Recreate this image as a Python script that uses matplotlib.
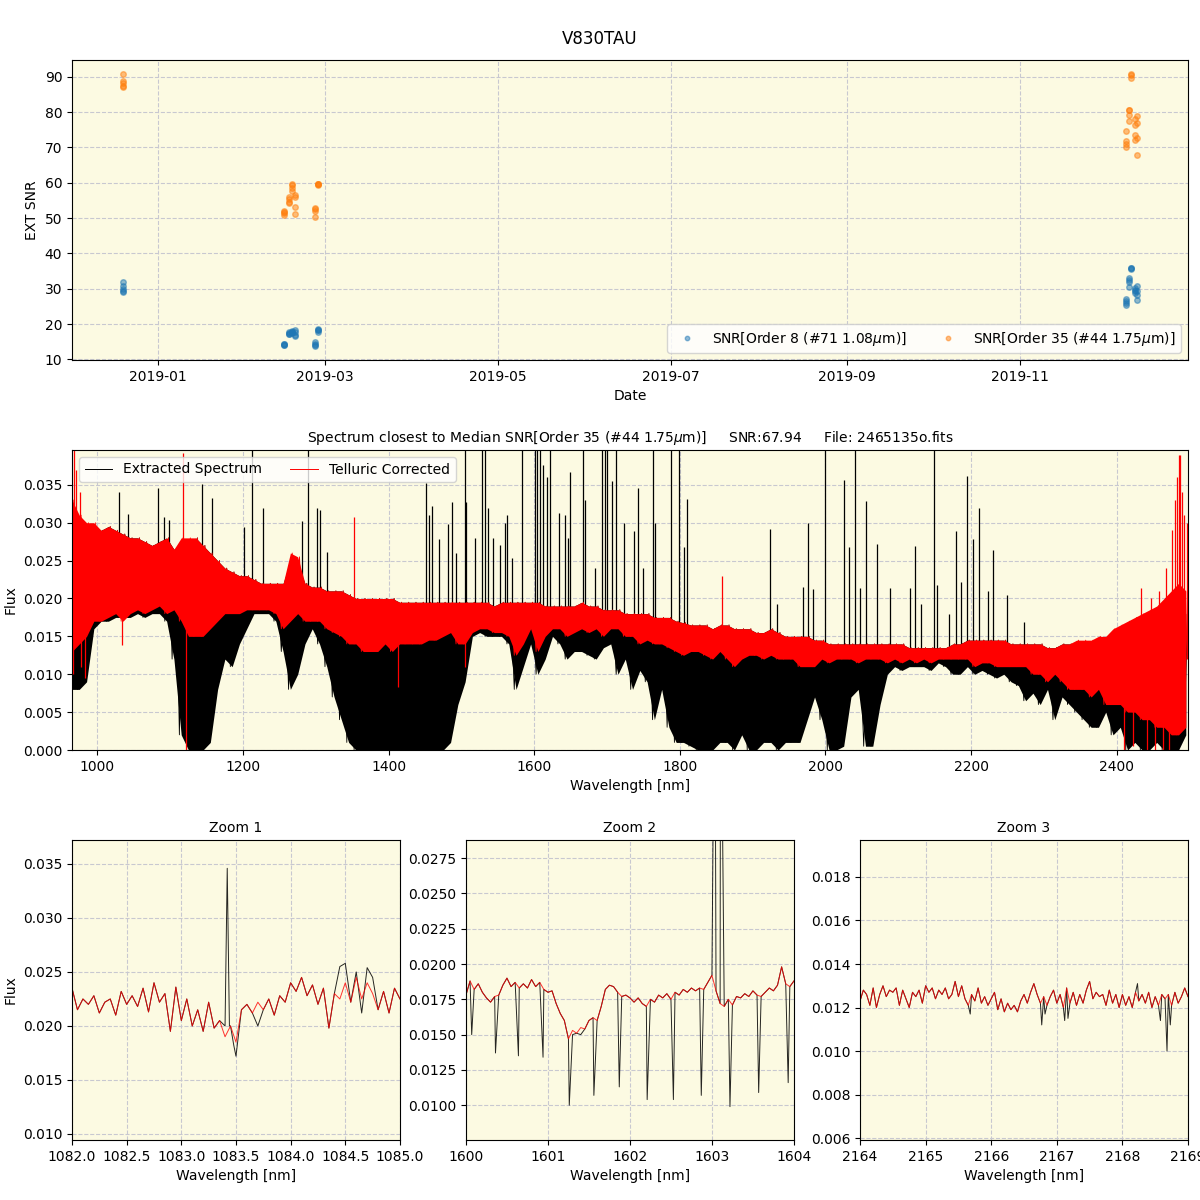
import numpy as np
import pandas as pd
import matplotlib
matplotlib.use('Agg')
import matplotlib.pyplot as plt
import matplotlib.dates as mdates

# ---------------- SNR time series ----------------
obs_dates = [
    '2018-12-19 15:00', '2018-12-19 15:10', '2018-12-19 15:20', '2018-12-19 15:30', '2018-12-19 15:40',
    '2019-02-14 08:00', '2019-02-14 08:10', '2019-02-14 08:20', '2019-02-14 08:30',
    '2019-02-16 05:00', '2019-02-16 05:10', '2019-02-16 05:20', '2019-02-16 05:30',
    '2019-02-17 06:00', '2019-02-17 06:10', '2019-02-17 06:20', '2019-02-17 06:30',
    '2019-02-18 07:00', '2019-02-18 07:10', '2019-02-18 07:20', '2019-02-18 07:30',
    '2019-02-25 10:00', '2019-02-25 10:10', '2019-02-25 10:20', '2019-02-25 10:30',
    '2019-02-26 10:00', '2019-02-26 10:10', '2019-02-26 10:20', '2019-02-26 10:30',
    '2019-12-08 11:00', '2019-12-08 11:10', '2019-12-08 11:20', '2019-12-08 11:30',
    '2019-12-09 12:00', '2019-12-09 12:10', '2019-12-09 12:20', '2019-12-09 12:30',
    '2019-12-10 05:00', '2019-12-10 05:10', '2019-12-10 05:20',
    '2019-12-11 14:00', '2019-12-11 14:10', '2019-12-11 14:20', '2019-12-11 14:30',
    '2019-12-12 07:00', '2019-12-12 07:10', '2019-12-12 07:20', '2019-12-12 07:30',
]
snr_order8 = [
    31.9, 30.7, 30.0, 29.4, 29.0,
    14.3, 14.2, 14.4, 14.1,
    17.7, 17.3, 17.5, 17.2,
    17.9, 17.5, 18.0, 17.7,
    18.4, 17.7, 16.5, 17.0,
    14.9, 14.3, 13.7, 14.0,
    18.6, 17.9, 18.2, 18.4,
    27.1, 26.5, 25.4, 26.0,
    33.1, 32.4, 30.5, 31.8,
    35.8, 35.8, 35.6,
    30.2, 29.6, 28.8, 29.3,
    30.9, 28.1, 26.9, 29.5,
]
snr_order35 = [
    90.9, 88.8, 88.2, 87.4, 87.0,
    52.1, 51.8, 51.5, 50.8,
    56.1, 55.3, 54.7, 54.3,
    59.8, 59.3, 58.6, 57.8,
    56.6, 56.0, 53.2, 51.2,
    52.9, 52.5, 52.0, 50.4,
    59.8, 59.5, 59.7, 59.6,
    74.6, 71.7, 70.9, 70.1,
    80.7, 80.7, 79.1, 77.4,
    90.9, 90.5, 89.8,
    78.2, 76.3, 73.6, 72.0,
    78.9, 76.9, 72.8, 68.0,
]

# ---------------- full spectrum, envelopes in 10 nm bins ----------------
spec_wl = np.arange(965, 2500, 10)
ext_lo = [
    0.008, 0.008, 0.009, 0.016,
    0.017, 0.017, 0.0175, 0.0175, 0.0175, 0.018, 0.0175, 0.018, 0.018, 0.017,
    0.012, 0.002, 0.000, 0.000, 0.000, 0.001, 0.008, 0.012, 0.011, 0.014,
    0.016, 0.018, 0.018, 0.018, 0.017, 0.013, 0.008, 0.010, 0.014, 0.016,
    0.014, 0.011, 0.007, 0.004, 0.001, 0.000, 0.000, 0.000, 0.000, 0.000,
    0.000, 0.000, 0.000, 0.000, 0.000, 0.000, 0.000, 0.000, 0.001, 0.006,
    0.009, 0.015, 0.0155, 0.015, 0.015, 0.015, 0.014, 0.008, 0.011, 0.014,
    0.010, 0.012, 0.015, 0.014, 0.012, 0.013, 0.013, 0.0125, 0.012, 0.0135,
    0.014, 0.010, 0.012, 0.008, 0.0105, 0.009, 0.004, 0.008, 0.003, 0.001,
    0.001, 0.0005, 0.000, 0.000, 0.000, 0.001, 0.001, 0.000, 0.002, 0.000,
    0.000, 0.001, 0.001, 0.000, 0.001, 0.001, 0.001, 0.004, 0.007, 0.004,
    0.000, 0.000, 0.0005, 0.007, 0.008, 0.0005, 0.0005, 0.006, 0.010, 0.011,
    0.0105, 0.011, 0.011, 0.011, 0.0105, 0.0115, 0.011, 0.010, 0.010, 0.011,
    0.010, 0.0105, 0.010, 0.0095, 0.010, 0.009, 0.0085, 0.0065, 0.0075, 0.006,
    0.008, 0.004, 0.007, 0.006, 0.005, 0.004, 0.003, 0.003, 0.005, 0.002,
    0.003, 0.000, 0.001, 0.000, 0.000, 0.001, 0.000, 0.000, 0.000, 0.002,
]
ext_hi = [
    0.031, 0.030, 0.029, 0.029,
    0.029, 0.0295, 0.029, 0.0285, 0.028, 0.028, 0.0275, 0.027, 0.0275, 0.028,
    0.0265, 0.027, 0.027, 0.028, 0.027, 0.026, 0.025, 0.024, 0.0235, 0.023,
    0.023, 0.0225, 0.022, 0.022, 0.022, 0.022, 0.025, 0.0245, 0.022, 0.0215,
    0.0215, 0.021, 0.021, 0.021, 0.0205, 0.020, 0.020, 0.020, 0.020, 0.020,
    0.020, 0.0195, 0.0195, 0.0195, 0.0195, 0.0195, 0.0195, 0.0195, 0.0195, 0.0195,
    0.0195, 0.0195, 0.0195, 0.0195, 0.019, 0.0195, 0.0195, 0.0195, 0.0195, 0.0195,
    0.0195, 0.019, 0.019, 0.019, 0.019, 0.019, 0.0195, 0.019, 0.019, 0.0185,
    0.0185, 0.0185, 0.018, 0.018, 0.018, 0.018, 0.0175, 0.0175, 0.0175, 0.017,
    0.0168, 0.0165, 0.0165, 0.0165, 0.016, 0.0165, 0.0165, 0.016, 0.016, 0.016,
    0.0155, 0.0155, 0.016, 0.0155, 0.015, 0.015, 0.015, 0.015, 0.0145, 0.0145,
    0.014, 0.014, 0.014, 0.014, 0.014, 0.014, 0.014, 0.014, 0.014, 0.014,
    0.014, 0.0135, 0.0135, 0.0135, 0.0135, 0.0135, 0.0135, 0.014, 0.014, 0.0145,
    0.0145, 0.0145, 0.0145, 0.0145, 0.0145, 0.014, 0.014, 0.014, 0.014, 0.014,
    0.0135, 0.0135, 0.014, 0.014, 0.014, 0.014, 0.014, 0.0145, 0.0145, 0.015,
    0.016, 0.016, 0.0165, 0.017, 0.017, 0.017, 0.018, 0.018, 0.019, 0.018,
]
tel_lo = [
    0.013, 0.014, 0.015, 0.017,
    0.017, 0.0175, 0.018, 0.017, 0.018, 0.0185, 0.018, 0.0185, 0.019, 0.018,
    0.0185, 0.017, 0.015, 0.015, 0.015, 0.016, 0.017, 0.018, 0.018, 0.018,
    0.0185, 0.0185, 0.0185, 0.0185, 0.018, 0.016, 0.017, 0.018, 0.017, 0.017,
    0.017, 0.016, 0.0155, 0.015, 0.014, 0.014, 0.013, 0.013, 0.013, 0.014,
    0.013, 0.014, 0.014, 0.014, 0.014, 0.0145, 0.0145, 0.015, 0.0155, 0.014,
    0.014, 0.0155, 0.016, 0.016, 0.0155, 0.0155, 0.015, 0.0125, 0.014, 0.016,
    0.013, 0.015, 0.016, 0.016, 0.015, 0.0155, 0.016, 0.0155, 0.016, 0.015,
    0.016, 0.016, 0.015, 0.015, 0.014, 0.0145, 0.014, 0.014, 0.0135, 0.013,
    0.0125, 0.013, 0.013, 0.0125, 0.012, 0.013, 0.012, 0.011, 0.012, 0.0125,
    0.0125, 0.012, 0.0125, 0.012, 0.012, 0.012, 0.011, 0.011, 0.011, 0.012,
    0.0115, 0.012, 0.012, 0.012, 0.0115, 0.012, 0.012, 0.012, 0.0115, 0.012,
    0.0115, 0.012, 0.0115, 0.012, 0.0115, 0.012, 0.012, 0.012, 0.012, 0.012,
    0.011, 0.0115, 0.0115, 0.011, 0.011, 0.011, 0.011, 0.011, 0.010, 0.010,
    0.009, 0.010, 0.009, 0.008, 0.008, 0.008, 0.007, 0.008, 0.006, 0.006,
    0.006, 0.005, 0.005, 0.004, 0.004, 0.003, 0.003, 0.002, 0.002, 0.003,
]
tel_hi = [
    0.033, 0.031, 0.030, 0.030,
    0.029, 0.0295, 0.029, 0.0285, 0.028, 0.028, 0.0275, 0.027, 0.0275, 0.028,
    0.0265, 0.028, 0.028, 0.028, 0.027, 0.026, 0.025, 0.024, 0.0235, 0.023,
    0.023, 0.0225, 0.022, 0.022, 0.022, 0.022, 0.026, 0.0255, 0.022, 0.0215,
    0.0215, 0.021, 0.021, 0.021, 0.0205, 0.020, 0.020, 0.020, 0.020, 0.020,
    0.020, 0.0195, 0.0195, 0.0195, 0.0195, 0.0195, 0.0195, 0.0195, 0.0195, 0.0195,
    0.0195, 0.0195, 0.0195, 0.0195, 0.019, 0.0195, 0.0195, 0.0195, 0.0195, 0.0195,
    0.0195, 0.019, 0.019, 0.019, 0.019, 0.019, 0.0195, 0.019, 0.019, 0.0185,
    0.0185, 0.0185, 0.018, 0.018, 0.018, 0.018, 0.0175, 0.0175, 0.0175, 0.017,
    0.0168, 0.0165, 0.0165, 0.0165, 0.016, 0.0165, 0.0165, 0.016, 0.016, 0.016,
    0.0155, 0.0155, 0.016, 0.0155, 0.015, 0.015, 0.015, 0.015, 0.0145, 0.0145,
    0.014, 0.014, 0.014, 0.014, 0.014, 0.014, 0.014, 0.014, 0.014, 0.014,
    0.014, 0.0135, 0.0135, 0.0135, 0.0135, 0.0135, 0.0135, 0.014, 0.014, 0.0145,
    0.0145, 0.0145, 0.0145, 0.0145, 0.0145, 0.014, 0.014, 0.014, 0.014, 0.014,
    0.0135, 0.0135, 0.014, 0.014, 0.0145, 0.0145, 0.0145, 0.015, 0.015, 0.016,
    0.0165, 0.017, 0.0175, 0.018, 0.0185, 0.019, 0.020, 0.021, 0.022, 0.021,
]

# narrow spikes in the extracted spectrum (wavelength, peak flux)
ext_spike_wl = [972, 980, 1029, 1042, 1083.4, 1091.7, 1098, 1143.5, 1157.6, 1201.6,
                1211.7, 1227.7, 1280.4, 1289.6, 1301, 1305.6, 1314.8, 1451, 1456, 1460,
                1469, 1482, 1487.5, 1492.5, 1505, 1506.5, 1518, 1528, 1532, 1537,
                1543, 1553, 1560, 1563, 1569.5, 1583, 1601.5, 1603.1, 1608, 1611.6,
                1618, 1621.7, 1634, 1642, 1647, 1649, 1667, 1670, 1683, 1693.5,
                1697, 1700, 1706.5, 1712, 1723, 1737.5, 1742.6, 1750, 1763.6, 1766,
                1787.5, 1798.5, 1806, 1810, 1924, 1934, 1968.6, 1975.8, 1982.7, 1999.6,
                2026, 2032.6, 2040, 2048, 2055.5, 2071, 2089, 2115.5, 2123, 2131.6,
                2149, 2153, 2170, 2179, 2186, 2193.8, 2203, 2211, 2223, 2229.5,
                2250, 2272.6]
ext_spike_top = [0.030, 0.029, 0.0341, 0.0311, 0.0346, 0.0307, 0.0304, 0.0351, 0.0333, 0.0295,
                 0.045, 0.032, 0.0302, 0.045, 0.032, 0.0317, 0.0262, 0.0353, 0.031, 0.0322,
                 0.0278, 0.0298, 0.0327, 0.026, 0.045, 0.0327, 0.028, 0.045, 0.045, 0.032,
                 0.028, 0.027, 0.030, 0.031, 0.0253, 0.045, 0.045, 0.045, 0.045, 0.0376,
                 0.036, 0.045, 0.0313, 0.031, 0.028, 0.0367, 0.045, 0.033, 0.024, 0.045,
                 0.045, 0.045, 0.0355, 0.045, 0.030, 0.0289, 0.0346, 0.024, 0.045, 0.030,
                 0.045, 0.045, 0.0268, 0.0331, 0.0292, 0.0193, 0.0215, 0.030, 0.0213, 0.045,
                 0.0357, 0.0268, 0.045, 0.0214, 0.0329, 0.0272, 0.0214, 0.0214, 0.0269, 0.0193,
                 0.045, 0.0218, 0.018, 0.0289, 0.0222, 0.0362, 0.0278, 0.0319, 0.021, 0.0264,
                 0.0205, 0.0169]
# narrow features in the telluric corrected spectrum (wavelength, extreme flux)
tel_spike_wl = [966, 968, 971, 976, 978, 983, 1034, 1118, 1122, 1352, 1413, 1505, 1858,
                2410, 2422, 2434, 2441, 2447, 2452, 2458, 2463, 2468, 2472, 2476, 2480,
                2483, 2485, 2487, 2490, 2493, 2496]
tel_spike_val = [0.010, 0.040, 0.037, 0.034, 0.011, 0.0095, 0.0139, 0.0392, 0.0, 0.0308,
                 0.0083, 0.011, 0.023, 0.0, 0.0005, 0.0214, 0.0, 0.020, 0.0, 0.021,
                 0.0, 0.024, 0.0, 0.029, 0.033, 0.036, 0.039, 0.039, 0.034, 0.031, 0.030]

# ---------------- zoom windows ----------------
zoom1_wl = np.round(np.arange(1082.0, 1085.001, 0.05), 3)
zoom1_tel = [0.0235, 0.0215, 0.0225, 0.0220, 0.0228, 0.0212, 0.0222, 0.0225, 0.0210, 0.0232,
             0.0220, 0.0228, 0.0218, 0.0235, 0.0213, 0.0240, 0.0222, 0.0230, 0.0195, 0.0236,
             0.0205, 0.0225, 0.0200, 0.0215, 0.0195, 0.0222, 0.0198, 0.0205, 0.0190, 0.0200,
             0.0185, 0.0215, 0.0220, 0.0212, 0.0222, 0.0215, 0.0225, 0.0210, 0.0228, 0.0222,
             0.0240, 0.0232, 0.0245, 0.0228, 0.0238, 0.0220, 0.0235, 0.0198, 0.0230, 0.0225,
             0.0240, 0.0222, 0.0245, 0.0225, 0.0240, 0.0230, 0.0215, 0.0232, 0.0212, 0.0235,
             0.0225]
zoom1_ext_wl = [1083.40, 1083.42, 1083.44, 1083.48, 1083.50, 1083.70,
                1084.45, 1084.50, 1084.60, 1084.65, 1084.70, 1084.75]
zoom1_ext_val = [0.0200, 0.0346, 0.0200, 0.0182, 0.0172, 0.0200,
                 0.0255, 0.0258, 0.0250, 0.0212, 0.0254, 0.0245]

zoom2_wl = np.round(np.arange(1600.0, 1604.001, 0.05), 3)
zoom2_tel = [0.0178, 0.0188, 0.0182, 0.0186, 0.0180, 0.0176, 0.0173, 0.0177, 0.0178, 0.0185,
             0.0190, 0.0184, 0.0187, 0.0183, 0.0186, 0.0183, 0.0189, 0.0184, 0.0187, 0.0182,
             0.0180, 0.0181, 0.0172, 0.0165, 0.0160, 0.0147, 0.0153, 0.0151, 0.0155, 0.0154,
             0.0160, 0.0162, 0.0160, 0.0170, 0.0182, 0.0185, 0.0184, 0.0180, 0.0177, 0.0178,
             0.0176, 0.0173, 0.0176, 0.0172, 0.0170, 0.0175, 0.0173, 0.0178, 0.0176, 0.0179,
             0.0175, 0.0180, 0.0178, 0.0182, 0.0180, 0.0183, 0.0181, 0.0183, 0.0182, 0.0187,
             0.0192, 0.0181, 0.0172, 0.0170, 0.0175, 0.0171, 0.0177, 0.0176, 0.0179, 0.0177,
             0.0181, 0.0178, 0.0177, 0.0180, 0.0183, 0.0181, 0.0185, 0.0198, 0.0186, 0.0184,
             0.0188]
zoom2_ext_wl = [1600.07, 1600.36, 1600.64, 1600.94, 1601.26, 1601.30, 1601.40, 1601.56,
                1601.87, 1602.21, 1602.53, 1602.87, 1603.035, 1603.105, 1603.22, 1603.57, 1603.93]
zoom2_ext_val = [0.0150, 0.0137, 0.0135, 0.0134, 0.0100, 0.0150, 0.0150, 0.0107,
                 0.0113, 0.0104, 0.0104, 0.0107, 0.045, 0.045, 0.0099, 0.0109, 0.0116]

zoom3_wl = np.round(np.arange(2164.0, 2169.001, 0.05), 3)
zoom3_tel = [0.0123, 0.0128, 0.0126, 0.0121, 0.0129, 0.0120, 0.0126, 0.0130, 0.0125, 0.0128,
             0.0127, 0.0129, 0.0121, 0.0128, 0.0124, 0.0120, 0.0127, 0.0125, 0.0128, 0.0122,
             0.0130, 0.0127, 0.0129, 0.0124, 0.0128, 0.0126, 0.0129, 0.0124, 0.0126, 0.0132,
             0.0125, 0.0130, 0.0124, 0.0121, 0.0126, 0.0123, 0.0129, 0.0122, 0.0125, 0.0121,
             0.0124, 0.0127, 0.0119, 0.0124, 0.0118, 0.0122, 0.0119, 0.0121, 0.0118, 0.0123,
             0.0126, 0.0122, 0.0127, 0.0131, 0.0126, 0.0122, 0.0125, 0.0121, 0.0125, 0.0128,
             0.0122, 0.0126, 0.0120, 0.0129, 0.0122, 0.0127, 0.0121, 0.0126, 0.0122, 0.0128,
             0.0132, 0.0124, 0.0127, 0.0125, 0.0126, 0.0121, 0.0128, 0.0122, 0.0126, 0.0120,
             0.0126, 0.0121, 0.0125, 0.0120, 0.0127, 0.0123, 0.0126, 0.0122, 0.0127, 0.0120,
             0.0125, 0.0121, 0.0126, 0.0124, 0.0126, 0.0121, 0.0127, 0.0122, 0.0125, 0.0129,
             0.0125]
zoom3_ext_wl = [2165.68, 2166.77, 2166.82, 2167.12, 2167.17, 2168.23, 2168.58, 2168.68, 2168.73]
zoom3_ext_val = [0.0117, 0.0112, 0.0117, 0.0114, 0.0115, 0.0131, 0.0114, 0.0100, 0.0112]

BG = '#fcfae2'


def zigzag(wl, lo, hi, half=2.5):
    wl = np.asarray(wl, float)
    x = np.column_stack([wl - half, wl + half]).ravel()
    y = np.column_stack([lo, hi]).ravel()
    return x, y


def with_overrides(wl, flux, o_wl, o_val):
    d = {round(float(w), 3): v for w, v in zip(wl, flux)}
    for w, v in zip(o_wl, o_val):
        d[round(float(w), 3)] = v
    keys = sorted(d)
    return keys, [d[k] for k in keys]


def style(ax):
    ax.set_facecolor(BG)
    ax.grid(True, linestyle='--', color='#c8c8d0', linewidth=0.8)
    ax.set_axisbelow(True)


fig = plt.figure(figsize=(12, 12), dpi=100)
fig.suptitle('V830TAU', y=0.975, fontsize=12)

# ---- top: SNR vs date
ax1 = fig.add_axes([0.06, 0.70, 0.93, 0.25])
style(ax1)
dates = pd.to_datetime(obs_dates)
ax1.plot(dates, snr_order8, 'o', ms=4, alpha=0.5, color='tab:blue',
         label='SNR[Order 8 (#71 1.08$\\mu$m)]')
ax1.plot(dates, snr_order35, 'o', ms=4, alpha=0.5, color='tab:orange',
         label='SNR[Order 35 (#44 1.75$\\mu$m)]')
ax1.xaxis.set_major_locator(mdates.MonthLocator(bymonth=[1, 3, 5, 7, 9, 11]))
ax1.xaxis.set_major_formatter(mdates.DateFormatter('%Y-%m'))
ax1.set_xlabel('Date')
ax1.set_ylabel('EXT SNR')
ax1.legend(loc='lower right', ncol=2, markerscale=0.8)

# ---- middle: full spectrum
ax2 = fig.add_axes([0.06, 0.375, 0.93, 0.25])
style(ax2)
ext_mid = (np.array(ext_lo) + np.array(ext_hi)) / 2
tel_mid = (np.array(tel_lo) + np.array(tel_hi)) / 2

# layer order: extracted (black) below telluric corrected (red)
ax2.fill_between(spec_wl, ext_lo, ext_hi, color='k', lw=0, zorder=1.0)
x, y = zigzag(spec_wl, ext_lo, ext_hi)
ax2.plot(x, y, color='k', lw=0.6, zorder=1.1)
idx = np.abs(spec_wl[:, None] - np.array(ext_spike_wl)[None, :]).argmin(0)
ax2.vlines(ext_spike_wl, ext_mid[idx], ext_spike_top, color='k', lw=0.9, zorder=1.2)

ax2.fill_between(spec_wl, tel_lo, tel_hi, color='red', lw=0, zorder=1.3)
x, y = zigzag(spec_wl, tel_lo, tel_hi)
ax2.plot(x, y, color='red', lw=0.6, zorder=1.4)
idx = np.abs(spec_wl[:, None] - np.array(tel_spike_wl)[None, :]).argmin(0)
ax2.vlines(tel_spike_wl, tel_mid[idx], tel_spike_val, color='red', lw=0.9, zorder=1.5)

ax2.set_xlim(965, 2498)
ax2.set_ylim(0, 0.0396)
ax2.set_xlabel('Wavelength [nm]')
ax2.set_ylabel('Flux')
ax2.set_title('Spectrum closest to Median SNR[Order 35 (#44 1.75$\\mu$m)]     SNR:67.94     '
              'File: 2465135o.fits', fontsize=10)
h_ext = plt.Line2D([], [], color='k', lw=0.7)
h_tel = plt.Line2D([], [], color='red', lw=0.7)
ax2.legend([h_ext, h_tel], ['Extracted Spectrum', 'Telluric Corrected'],
           loc='upper left', ncol=2)

# ---- bottom: zooms
zooms = [
    (zoom1_wl, zoom1_tel, zoom1_ext_wl, zoom1_ext_val, (1082, 1085), (0.00944, 0.03722)),
    (zoom2_wl, zoom2_tel, zoom2_ext_wl, zoom2_ext_val, (1600, 1604), (0.00754, 0.02878)),
    (zoom3_wl, zoom3_tel, zoom3_ext_wl, zoom3_ext_val, (2164, 2169), (0.00591, 0.0197)),
]
lefts = [0.06, 0.3883, 0.7167]
for i, (wl, tel, ewl, evl, xl, yl) in enumerate(zooms):
    ax = fig.add_axes([lefts[i], 0.05, 0.2733, 0.25])
    style(ax)
    ex_w, ex_f = with_overrides(wl, tel, ewl, evl)
    ax.plot(ex_w, ex_f, color='k', lw=0.7, alpha=0.85)
    ax.plot(wl, tel, color='red', lw=0.7, alpha=0.8)
    ax.set_xlim(*xl)
    ax.set_ylim(*yl)
    ax.set_xlabel('Wavelength [nm]')
    ax.set_title(f'Zoom {i + 1}', fontsize=10)
    if i == 0:
        ax.set_ylabel('Flux')

fig.savefig('out.png', dpi=100)
